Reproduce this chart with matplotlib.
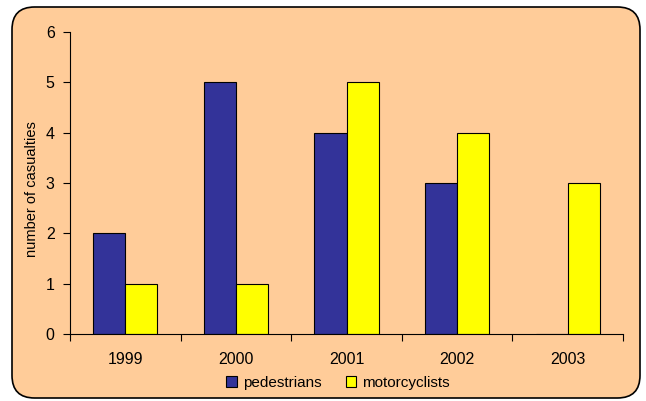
import numpy as np
import matplotlib
matplotlib.use('Agg')
import matplotlib.pyplot as plt
from matplotlib.patches import FancyBboxPatch

years = ['1999', '2000', '2001', '2002', '2003']
pedestrians = [2, 5, 4, 3, 0]
motorcyclists = [1, 1, 5, 4, 3]

plt.rcParams['font.family'] = ['Liberation Sans', 'DejaVu Sans']

bg = '#FFCC99'
fig = plt.figure(figsize=(6.46, 4.01), dpi=100)
fig.patch.set_facecolor('white')

# rounded border around the chart area, kept behind the axes
box = FancyBboxPatch((12 / 646, 3 / 401), 628 / 646, 391 / 401,
                     boxstyle='round,pad=0,rounding_size=0.035',
                     transform=fig.transFigure, facecolor=bg,
                     edgecolor='black', linewidth=1.2, mutation_aspect=646 / 401,
                     zorder=-10)
fig.patches.append(box)

ax = fig.add_axes([70 / 646, 1 - 334 / 401, 553 / 646, 302 / 401])
ax.set_facecolor('none')

x = np.arange(len(years))
w = 0.29
ax.bar(x - w / 2, pedestrians, w, color='#333399', edgecolor='black',
       linewidth=0.8, label='pedestrians')
ax.bar(x + w / 2, motorcyclists, w, color='#FFFF00', edgecolor='black',
       linewidth=0.8, label='motorcyclists')

ax.set_xlim(-0.5, len(years) - 0.5)
ax.set_ylim(0, 6)
ax.set_yticks(range(0, 7))
ax.set_xticks(x)
ax.set_xticklabels(years)
ax.set_xticks(np.arange(-0.5, len(years)), minor=True)
ax.tick_params(axis='x', which='major', length=0, pad=13, labelsize=11.5)
ax.tick_params(axis='x', which='minor', length=5, direction='out', width=0.8)
ax.tick_params(axis='y', length=5, direction='out', width=0.8, labelsize=11.5, pad=6)

for s in ['top', 'right']:
    ax.spines[s].set_visible(False)
for s in ['left', 'bottom']:
    ax.spines[s].set_linewidth(0.8)

ax.set_ylabel('number of casualties', fontsize=10.5)
ax.yaxis.set_label_coords(-0.056, 0.48)

leg = fig.legend(loc='center', bbox_to_anchor=(338 / 646, 1 - 383 / 401),
                 ncol=2, frameon=False, fontsize=11, handlelength=0.7,
                 handleheight=0.7, handletextpad=0.4, columnspacing=1.6)

fig.savefig('out.png', dpi=100, facecolor='white')
